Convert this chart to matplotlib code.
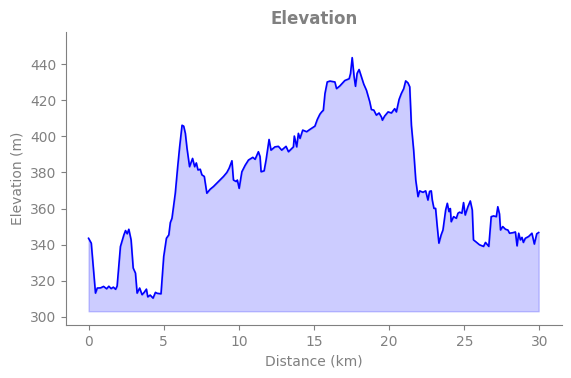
import matplotlib
matplotlib.use("Agg")
import matplotlib.pyplot as plt

# Distance (km) and elevation (m)
distance_km = [
    0.0, 0.18, 0.46, 0.58, 0.8, 1.0, 1.2, 1.35, 1.5, 1.65, 1.8, 1.9,
    2.12, 2.35, 2.46, 2.57, 2.68, 2.83, 2.97, 3.12, 3.23, 3.4, 3.56, 3.7,
    3.85, 3.94, 4.1, 4.29, 4.45, 4.56, 4.82, 5.0, 5.18, 5.34, 5.44, 5.55,
    5.77, 5.93, 6.06, 6.22, 6.33, 6.44, 6.55, 6.72, 6.92, 7.06, 7.17, 7.28,
    7.43, 7.54, 7.7, 7.87, 8.09, 8.31, 8.65, 8.98, 9.2, 9.35, 9.54, 9.64,
    9.82, 9.9, 10.02, 10.2, 10.42, 10.64, 10.93, 11.08, 11.3, 11.41, 11.48,
    11.68, 11.81, 12.01, 12.14, 12.4, 12.63, 12.85, 13.14, 13.3, 13.63,
    13.69, 13.85, 13.96, 14.07, 14.25, 14.51, 14.73, 15.06, 15.22, 15.39,
    15.51, 15.62, 15.73, 15.88, 16.06, 16.39, 16.5, 16.72, 17.05, 17.34,
    17.43, 17.54, 17.67, 17.76, 17.87, 18.0, 18.16, 18.31, 18.49, 18.71,
    18.82, 18.98, 19.15, 19.33, 19.49, 19.55, 19.7, 19.93, 20.15, 20.37,
    20.48, 20.66, 20.81, 20.97, 21.1, 21.25, 21.37, 21.48, 21.63, 21.77,
    21.92, 22.03, 22.25, 22.43, 22.58, 22.69, 22.8, 22.87, 22.98, 23.09,
    23.2, 23.31, 23.46, 23.58, 23.76, 23.87, 23.98, 24.07, 24.13, 24.29,
    24.47, 24.58, 24.69, 24.84, 24.95, 25.06, 25.24, 25.4, 25.53, 25.61,
    25.75, 26.01, 26.28, 26.41, 26.63, 26.79, 26.95, 27.13, 27.23, 27.34,
    27.41, 27.56, 27.74, 27.9, 28.01, 28.23, 28.4, 28.51, 28.62, 28.73,
    28.84, 28.93, 29.06, 29.28, 29.5, 29.66, 29.82, 29.95,
]
elevation_m = [
    343.5, 340.8, 313.1, 315.9, 316.0, 316.8, 315.5, 316.9, 315.6, 316.4, 315.2, 317.0,
    338.9, 345.4, 347.8, 346.0, 348.5, 342.6, 327.0, 324.2, 313.1, 315.9, 312.2, 313.5,
    315.3, 311.0, 312.0, 310.3, 313.5, 313.0, 312.7, 333.4, 343.5, 345.4, 352.2, 354.6,
    368.5, 383.2, 394.2, 406.2, 405.7, 401.7, 393.4, 383.2, 387.8, 383.2, 385.3, 381.4,
    381.8, 378.7, 377.8, 368.5, 370.7, 372.2, 375.0, 377.8, 380.0, 382.3, 386.5, 375.8,
    375.0, 375.8, 371.2, 380.4, 384.0, 386.9, 388.4, 387.3, 391.5, 388.8, 380.4,
    380.9, 386.9, 398.3, 392.4, 394.2, 394.5, 392.4, 394.5, 391.5, 394.2,
    400.2, 394.2, 401.7, 398.9, 403.5, 402.6, 403.9, 405.7, 409.4, 412.3,
    413.6, 414.5, 423.8, 430.2, 430.7, 430.2, 426.5, 428.0, 431.0, 432.0,
    434.9, 443.7, 433.0, 427.8, 435.0, 437.1, 433.0, 429.0, 425.6, 419.2,
    414.9, 414.6, 411.8, 413.0, 410.7, 409.0, 411.3, 413.6, 413.0, 415.4,
    413.6, 420.5, 423.8, 426.5, 430.8, 429.7, 427.5, 406.2, 392.4, 375.8,
    366.6, 369.8, 369.0, 369.8, 364.7, 369.5, 369.8, 364.7, 360.1, 360.1,
    350.0, 340.8, 345.4, 348.1, 359.2, 362.9, 358.3, 360.0, 352.7, 355.5,
    354.6, 357.4, 358.0, 357.4, 363.3, 356.4, 361.0, 364.2, 359.2, 342.6,
    341.7, 339.9, 339.0, 341.2, 339.0, 355.5, 355.9, 355.5, 361.0, 357.0,
    348.1, 350.0, 348.5, 348.1, 346.3, 346.6, 347.0, 339.3, 346.3, 342.6,
    344.0, 341.2, 343.5, 344.5, 346.3, 340.3, 346.0, 346.7,
]
fill_base_m = 303.0
y_limits = (295.4, 457.9)
x_ticks = [0, 5, 10, 15, 20, 25, 30]
y_ticks = [300, 320, 340, 360, 380, 400, 420, 440]

grey = "#808080"
fig = plt.figure(figsize=(5.71, 3.78), dpi=100)
ax = fig.add_axes([0.1156, 0.1402, 0.8686, 0.7751])

ax.fill_between(distance_km, elevation_m, fill_base_m, color="blue", alpha=0.2)
ax.plot(distance_km, elevation_m, color="blue", lw=1.2)

ax.set_xlim(-1.5, 31.5)
ax.set_ylim(*y_limits)
ax.set_xticks(x_ticks)
ax.set_yticks(y_ticks)

ax.set_title("Elevation", color=grey, fontsize=12, fontweight="bold")
ax.set_xlabel("Distance (km)", color=grey, fontsize=10)
ax.set_ylabel("Elevation (m)", color=grey, fontsize=10)

for s in ("top", "right"):
    ax.spines[s].set_visible(False)
for s in ("left", "bottom"):
    ax.spines[s].set_color(grey)
ax.tick_params(colors=grey, labelcolor=grey, labelsize=10)

fig.savefig("out.png", dpi=100)
